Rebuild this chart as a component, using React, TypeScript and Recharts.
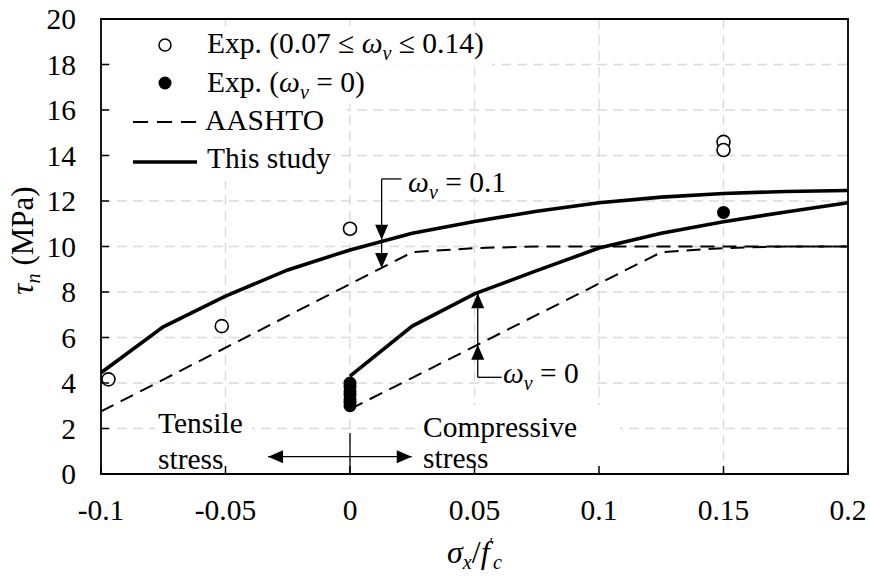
import React from "react";
import {
  ComposedChart,
  Line,
  Scatter,
  XAxis,
  YAxis,
  CartesianGrid,
  ReferenceLine,
  ReferenceArea,
  Legend,
} from "recharts";

const SERIF = '"Liberation Serif", "Times New Roman", Times, serif';
const FS = 29.5;

const xTicks = [-0.1, -0.05, 0, 0.05, 0.1, 0.15, 0.2];
const yTicks = [0, 2, 4, 6, 8, 10, 12, 14, 16, 18, 20];

// omega_v = 0.1
const stressA = [-0.1, -0.075, -0.05, -0.025, 0, 0.025, 0.05, 0.075, 0.1, 0.125, 0.15, 0.175, 0.2];
const studyA = [4.45, 6.47, 7.82, 8.97, 9.85, 10.58, 11.1, 11.55, 11.92, 12.17, 12.33, 12.42, 12.46];
const aashtoA = [2.75, 4.15, 5.55, 6.95, 8.35, 9.75, 9.93, 10, 10, 10, 10, 10, 10];

// omega_v = 0
const stressB = [0, 0.025, 0.05, 0.075, 0.1, 0.125, 0.15, 0.175, 0.2];
const studyB = [4.3, 6.5, 7.92, 8.94, 9.93, 10.58, 11.09, 11.52, 11.92];
const aashtoB = [2.85, 4.23, 5.61, 6.99, 8.37, 9.75, 9.93, 10, 10];

// test results
const openX = [-0.097, -0.0515, 0, 0.15, 0.15];
const openY = [4.16, 6.5, 10.78, 14.6, 14.24];
const filledX = [0, 0, 0, 0, 0, 0, 0, 0.15];
const filledY = [3.0, 3.15, 3.3, 3.5, 3.65, 3.85, 4.0, 11.5];

const zip = (xs: number[], ys: number[]) => xs.map((x, i) => ({ x, y: ys[i] }));

const SerifText = ({ x, y, anchor = "start", children }: any) => (
  <text x={x} y={y} textAnchor={anchor} fontFamily={SERIF} fontSize={FS} fill="#000">
    {children}
  </text>
);

const Omega = ({ tail }: { tail: string }) => (
  <>
    <tspan fontStyle="italic">ω</tspan>
    <tspan fontStyle="italic" fontSize={20} dy={7}>v</tspan>
    <tspan dy={-7}>{tail}</tspan>
  </>
);

const Y_MARGIN = 25;
const X_MARGIN = 46;
const INNER_TICK = 8;

const YTick = ({ x, y, payload }: any) => (
  <g>
    <line x1={x + Y_MARGIN} x2={x + Y_MARGIN + INNER_TICK} y1={y} y2={y} stroke="#000" strokeWidth={1.5} />
    <SerifText x={x} y={y + 10} anchor="end">{payload.value}</SerifText>
  </g>
);

const XTick = ({ x, y, payload }: any) => (
  <g>
    <line x1={x} x2={x} y1={y - X_MARGIN} y2={y - X_MARGIN - INNER_TICK} stroke="#000" strokeWidth={1.5} />
    <SerifText x={x} y={y} anchor="middle">{payload.value}</SerifText>
  </g>
);

const YLabel = ({ viewBox }: any) => (
  <text
    transform={`translate(${viewBox.x + 33},${viewBox.y + viewBox.height / 2 - 6}) rotate(-90)`}
    textAnchor="middle"
    fontFamily={SERIF}
    fontSize={31}
    fill="#000"
  >
    <tspan fontStyle="italic">τ</tspan>
    <tspan fontStyle="italic" fontSize={20} dy={7}>n</tspan>
    <tspan dy={-7} dx={8}>(MPa)</tspan>
  </text>
);

const XLabel = ({ viewBox }: any) => (
  <text
    x={viewBox.x + viewBox.width / 2}
    y={viewBox.y + 89}
    textAnchor="middle"
    fontFamily={SERIF}
    fontSize={32}
    fill="#000"
  >
    <tspan fontStyle="italic">σ</tspan>
    <tspan fontStyle="italic" fontSize={20} dy={6}>x</tspan>
    <tspan dy={-6}>/</tspan>
    <tspan fontStyle="italic">f</tspan>
    <tspan fontSize={16} dy={-14}>′</tspan>
    <tspan fontStyle="italic" fontSize={20} dy={20}>c</tspan>
  </text>
);

function Arrow({ x1, y1, x2, y2, heads = "end" }: any) {
  const L = 15;
  const W = 6.5;
  const len = Math.hypot(x2 - x1, y2 - y1) || 1;
  const ux = (x2 - x1) / len;
  const uy = (y2 - y1) / len;
  const head = (tx: number, ty: number, dx: number, dy: number) => {
    const bx = tx - dx * L;
    const by = ty - dy * L;
    return `${tx},${ty} ${bx - dy * W},${by + dx * W} ${bx + dy * W},${by - dx * W}`;
  };
  return (
    <g>
      <line x1={x1} y1={y1} x2={x2} y2={y2} stroke="#000" strokeWidth={1.3} />
      {heads !== "none" && <polygon points={head(x2, y2, ux, uy)} fill="#000" />}
      {heads === "both" && <polygon points={head(x1, y1, -ux, -uy)} fill="#000" />}
    </g>
  );
}

const textBox = (lines: React.ReactNode[], dx: number, baselines: number[]) => (p: any) => (
  <g>
    <rect x={p.x} y={p.y} width={p.width} height={p.height} fill="#fff" />
    {lines.map((ln, i) => (
      <SerifText key={i} x={p.x + dx} y={p.y + baselines[i]}>{ln}</SerifText>
    ))}
  </g>
);

const OpenDot = (p: any) => <circle cx={p.cx} cy={p.cy} r={6.5} fill="#fff" stroke="#000" strokeWidth={1.6} />;
const FilledDot = (p: any) => <circle cx={p.cx} cy={p.cy} r={6.5} fill="#000" />;

function LegendPanel() {
  return (
    <svg width={870} height={190} style={{ display: "block" }}>
      <rect x={117} y={26} width={375} height={39} fill="#fff" />
      <rect x={117} y={64.5} width={251} height={39} fill="#fff" />
      <rect x={117} y={103} width={230} height={39} fill="#fff" />
      <rect x={117} y={141.5} width={216} height={39} fill="#fff" />

      <circle cx={165} cy={45} r={6} fill="#fff" stroke="#000" strokeWidth={1.5} />
      <SerifText x={207} y={53}>
        {"Exp. (0.07 ≤ "}
        <Omega tail=" ≤ 0.14)" />
      </SerifText>

      <circle cx={165} cy={83} r={6.5} fill="#000" />
      <SerifText x={207} y={92}>
        {"Exp. ("}
        <Omega tail=" = 0)" />
      </SerifText>

      <line x1={133} x2={197} y1={122} y2={122} stroke="#000" strokeWidth={2} strokeDasharray="15 9" />
      <SerifText x={205} y={130}>AASHTO</SerifText>

      <line x1={133} x2={197} y1={162} y2={162} stroke="#000" strokeWidth={3.6} />
      <SerifText x={207} y={168}>This study</SerifText>
    </svg>
  );
}

export default function App() {
  return (
    <div style={{ position: "absolute", left: 0, top: 0, width: 870, height: 579, background: "#fff" }}>
      <ComposedChart width={870} height={579} margin={{ top: 19, right: 22, bottom: 0, left: 0 }}>
        <CartesianGrid stroke="#d9d9d9" strokeWidth={1.3} strokeDasharray="10 6" />

        {/* white text boxes for the notes, under the curves */}
        <ReferenceArea
          x1={0.0213} x2={0.0635} y1={12.13} y2={13.41}
          shape={textBox([<Omega tail=" = 0.1" />], 5, [23])}
        />
        <ReferenceArea
          x1={0.0606} x2={0.0972} y1={3.47} y2={5.01}
          shape={textBox([<Omega tail=" = 0" />], 2, [23])}
        />
        <ReferenceArea
          x1={-0.0783} x2={-0.0394} y1={0.15} y2={2.6}
          shape={textBox(["Tensile", "stress"], 3, [18, 54])}
        />
        <ReferenceArea
          x1={0.0281} x2={0.1084} y1={0.15} y2={3.03}
          shape={textBox(["Compressive", "stress"], 3, [32, 63])}
        />

        <XAxis
          dataKey="x"
          type="number"
          domain={[-0.1, 0.2]}
          ticks={xTicks}
          interval={0}
          height={105}
          axisLine={false}
          tickLine={false}
          tickSize={0}
          tickMargin={X_MARGIN}
          tick={(p: any) => <XTick {...p} />}
          label={(p: any) => <XLabel {...p} />}
        />
        <YAxis
          dataKey="y"
          type="number"
          domain={[0, 20]}
          ticks={yTicks}
          interval={0}
          width={101}
          axisLine={false}
          tickLine={false}
          tickSize={0}
          tickMargin={Y_MARGIN}
          tick={(p: any) => <YTick {...p} />}
          label={(p: any) => <YLabel {...p} />}
        />

        <Line data={zip(stressA, aashtoA)} dataKey="y" stroke="#000" strokeWidth={2} strokeDasharray="14 8" dot={false} activeDot={false} isAnimationActive={false} legendType="none" />
        <Line data={zip(stressB, aashtoB)} dataKey="y" stroke="#000" strokeWidth={2} strokeDasharray="14 8" dot={false} activeDot={false} isAnimationActive={false} legendType="none" />
        <Line data={zip(stressA, studyA)} dataKey="y" stroke="#000" strokeWidth={3.6} dot={false} activeDot={false} isAnimationActive={false} legendType="none" />
        <Line data={zip(stressB, studyB)} dataKey="y" stroke="#000" strokeWidth={3.6} dot={false} activeDot={false} isAnimationActive={false} legendType="none" />

        <Scatter data={zip(openX, openY)} dataKey="y" shape={OpenDot} isAnimationActive={false} legendType="none" />
        <Scatter data={zip(filledX, filledY)} dataKey="y" shape={FilledDot} isAnimationActive={false} legendType="none" />

        {/* omega_v = 0.1 pointer */}
        <ReferenceLine segment={[{ x: 0.0127, y: 12.97 }, { x: 0.0207, y: 12.97 }]} shape={(p: any) => <Arrow {...p} heads="none" />} />
        <ReferenceLine segment={[{ x: 0.0127, y: 12.97 }, { x: 0.0127, y: 10.3 }]} shape={(p: any) => <Arrow {...p} />} />
        <ReferenceLine segment={[{ x: 0.0127, y: 10.3 }, { x: 0.0127, y: 9.05 }]} shape={(p: any) => <Arrow {...p} />} />

        {/* omega_v = 0 pointer */}
        <ReferenceLine segment={[{ x: 0.0513, y: 4.25 }, { x: 0.0609, y: 4.25 }]} shape={(p: any) => <Arrow {...p} heads="none" />} />
        <ReferenceLine segment={[{ x: 0.0513, y: 4.25 }, { x: 0.0513, y: 5.68 }]} shape={(p: any) => <Arrow {...p} />} />
        <ReferenceLine segment={[{ x: 0.0513, y: 5.68 }, { x: 0.0513, y: 7.94 }]} shape={(p: any) => <Arrow {...p} />} />

        {/* tension / compression divider */}
        <ReferenceLine segment={[{ x: 0, y: 0 }, { x: 0, y: 1.8 }]} shape={(p: any) => <Arrow {...p} heads="none" />} />
        <ReferenceLine segment={[{ x: -0.0329, y: 0.76 }, { x: 0.0248, y: 0.76 }]} shape={(p: any) => <Arrow {...p} heads="both" />} />

        <ReferenceArea x1={-0.1} x2={0.2} y1={0} y2={20} fill="none" stroke="#000" strokeWidth={1.8} />

        <Legend
          content={() => <LegendPanel />}
          layout="horizontal"
          verticalAlign="middle"
          align="center"
          wrapperStyle={{ left: 0, top: 0, width: 870, height: 190, pointerEvents: "none" }}
        />
      </ComposedChart>
    </div>
  );
}
